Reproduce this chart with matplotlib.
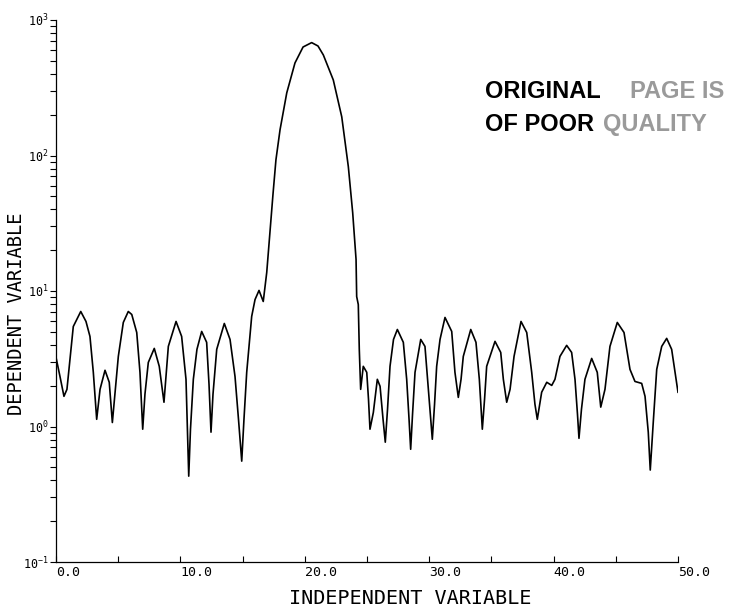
import matplotlib
matplotlib.use("Agg")
import matplotlib.pyplot as plt
from matplotlib.ticker import FixedLocator, LogLocator, NullFormatter

# Sampled response curve (independent variable, dependent variable)
x_vals = [
    0.00, 0.32, 0.64, 0.88, 1.39, 1.99, 2.41, 2.73, 3.00, 3.27,
    3.54, 3.94, 4.28, 4.53, 5.01, 5.41, 5.81, 6.09, 6.49, 6.75,
    6.97, 7.15, 7.42, 7.90, 8.30, 8.68, 9.03, 9.65, 10.10, 10.45,
    10.67, 10.81, 11.04, 11.33, 11.71, 12.11, 12.30, 12.46, 12.62, 12.92,
    13.53, 13.99, 14.39, 14.67, 14.93, 15.11, 15.33, 15.73, 16.00, 16.32,
    16.66, 16.94, 17.15, 17.44, 17.68, 18.01, 18.55, 19.21, 19.86, 20.55,
    21.06, 21.49, 22.29, 22.97, 23.50, 23.85, 24.12, 24.17, 24.30, 24.38,
    24.49, 24.70, 24.98, 25.12, 25.24, 25.51, 25.83, 26.05, 26.29, 26.47,
    26.65, 26.85, 27.13, 27.44, 27.92, 28.19, 28.38, 28.51, 28.66, 28.86,
    29.32, 29.66, 29.93, 30.25, 30.43, 30.60, 30.87, 31.27, 31.81, 32.07,
    32.34, 32.56, 32.74, 33.34, 33.76, 34.03, 34.27, 34.45, 34.62, 35.29,
    35.75, 35.96, 36.23, 36.50, 36.82, 37.38, 37.84, 38.24, 38.50, 38.69,
    39.04, 39.45, 39.85, 40.11, 40.51, 41.05, 41.45, 41.72, 41.92, 42.04,
    42.24, 42.52, 43.06, 43.51, 43.79, 44.13, 44.53, 45.12, 45.66, 46.14,
    46.54, 47.08, 47.35, 47.61, 47.77, 48.01, 48.29, 48.69, 49.09, 49.49,
    49.76, 50.00,
]
y_vals = [
    3.24, 2.34, 1.67, 1.88, 5.47, 7.06, 5.96, 4.62, 2.51, 1.13,
    1.88, 2.60, 2.12, 1.07, 3.29, 5.86, 7.06, 6.71, 4.94, 2.51,
    0.955, 1.73, 2.97, 3.77, 2.78, 1.51, 3.90, 5.96, 4.62, 2.23,
    0.430, 0.955, 2.23, 3.71, 5.03, 4.18, 2.05, 0.908, 1.73, 3.71,
    5.76, 4.39, 2.34, 1.13, 0.555, 1.13, 2.51, 6.49, 8.65, 10.1,
    8.37, 13.7, 23.9, 51.4, 92.9, 155.0, 290.0, 482.0, 632.0, 681.0,
    643.0, 552.0, 361.0, 193.0, 82.6, 37.8, 17.1, 9.10, 7.94, 3.71,
    1.88, 2.78, 2.51, 1.59, 0.955, 1.27, 2.23, 1.98, 1.13, 0.766,
    1.34, 2.78, 4.39, 5.20, 4.18, 2.23, 1.13, 0.679, 1.23, 2.51,
    4.39, 3.90, 1.88, 0.805, 1.46, 2.78, 4.39, 6.38, 5.03, 2.51,
    1.64, 2.23, 3.29, 5.20, 4.18, 2.23, 0.955, 1.59, 2.78, 4.25,
    3.52, 2.23, 1.51, 1.88, 3.29, 5.96, 4.94, 2.51, 1.46, 1.13,
    1.79, 2.12, 2.01, 2.23, 3.29, 3.97, 3.52, 2.23, 1.23, 0.818,
    1.34, 2.23, 3.18, 2.51, 1.39, 1.88, 3.90, 5.86, 4.94, 2.64,
    2.15, 2.08, 1.67, 0.908, 0.477, 1.07, 2.64, 3.90, 4.47, 3.71,
    2.51, 1.79,
]

x_major = [0, 10, 20, 30, 40, 50]
x_minor = [5, 15, 25, 35, 45]
x_tick_labels = ["0.0", "10.0", "20.0", "30.0", "40.0", "50.0"]
y_major = [0.1, 1, 10, 100, 1000]
y_tick_labels = [r"$\mathregular{10^{-1}}$", r"$\mathregular{10^{0}}$",
                 r"$\mathregular{10^{1}}$", r"$\mathregular{10^{2}}$",
                 r"$\mathregular{10^{3}}$"]

mono = "DejaVu Sans Mono"

fig = plt.figure(figsize=(7.5, 6.09), dpi=100)
ax = fig.add_axes([56 / 750, 1 - 562 / 609, 622 / 750, 542 / 609])

ax.plot(x_vals, y_vals, color="black", lw=1.2, solid_joinstyle="round")

ax.set_yscale("log")
ax.set_xlim(0, 50)
ax.set_ylim(0.1, 1000)

for side in ("top", "right"):
    ax.spines[side].set_visible(False)
for side in ("left", "bottom"):
    ax.spines[side].set_linewidth(0.9)

ax.xaxis.set_major_locator(FixedLocator(x_major))
ax.xaxis.set_minor_locator(FixedLocator(x_minor))
ax.set_xticklabels(x_tick_labels, ha="left", fontfamily=mono, fontsize=9.5)
ax.tick_params(axis="x", which="both", direction="in", length=4,
               width=0.8, pad=3)

ax.yaxis.set_major_locator(FixedLocator(y_major))
ax.yaxis.set_minor_locator(LogLocator(base=10, subs=range(2, 10)))
ax.yaxis.set_minor_formatter(NullFormatter())
ax.set_yticklabels(y_tick_labels, fontfamily=mono, fontsize=8.5)
ax.tick_params(axis="y", which="both", direction="out", length=4,
               width=0.8, pad=1.5)

fig.text(410 / 750, 1 - 599 / 609, "INDEPENDENT VARIABLE", ha="center",
         va="center", fontfamily=mono, fontsize=14.5)
fig.text(17 / 750, 1 - 314 / 609, "DEPENDENT VARIABLE", ha="center",
         va="center", rotation=90, fontfamily=mono, fontsize=13.5)

# Reproduction stamp
stamp = dict(fontfamily="Liberation Sans", fontweight="bold", fontsize=17,
             va="baseline")
fig.text(485 / 750, 1 - 98 / 609, "ORIGINAL", color="black", **stamp)
fig.text(630 / 750, 1 - 98 / 609, "PAGE IS", color="#9a9a9a", **stamp)
fig.text(485 / 750, 1 - 131 / 609, "OF POOR", color="black", **stamp)
fig.text(603 / 750, 1 - 131 / 609, "QUALITY", color="#9a9a9a", **stamp)

fig.savefig("out.png", dpi=100, facecolor="white")
